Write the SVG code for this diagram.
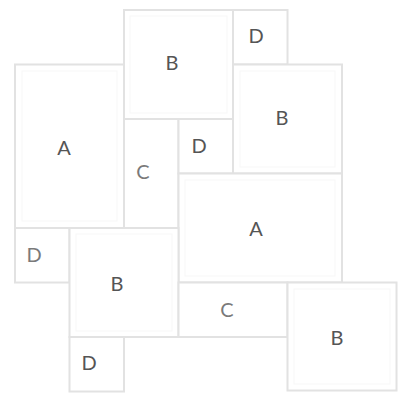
<svg xmlns="http://www.w3.org/2000/svg" width="399" height="393" viewBox="0 0 399 393">
<style>
.box{fill:#ffffff;stroke:#e2e2e2;stroke-width:2}
.inner{fill:none;stroke:#f7f7f7;stroke-width:1}
.lbl{font-family:"Lato","Open Sans",sans-serif;font-size:20px;fill:#555555;text-anchor:middle;dominant-baseline:central}
.lt{fill:#7a7a7a}
</style>
<rect width="399" height="393" fill="#ffffff"/>
<g id="B1"><rect class="box" x="124" y="10" width="109" height="109"/><rect class="inner" x="130" y="16" width="97" height="97"/><text class="lbl" x="172" y="62">B</text></g>
<g id="D1"><rect class="box" x="233" y="10" width="54.5" height="54.5"/><text class="lbl" x="256" y="35">D</text></g>
<g id="A1"><rect class="box" x="15" y="64.5" width="109" height="163.5"/><rect class="inner" x="22" y="71" width="95" height="150"/><text class="lbl" x="64" y="147">A</text></g>
<g id="B2"><rect class="box" x="233" y="64.5" width="109" height="109"/><rect class="inner" x="240" y="71" width="95" height="96"/><text class="lbl" x="282" y="117">B</text></g>
<g id="C1"><rect class="box" x="124" y="119" width="54.5" height="109"/><text class="lbl lt" x="143" y="171">C</text></g>
<g id="D2"><rect class="box" x="178.5" y="119" width="54.5" height="54.5"/><text class="lbl" x="199" y="145">D</text></g>
<g id="A2"><rect class="box" x="178.5" y="173.5" width="163.5" height="109"/><rect class="inner" x="185" y="180" width="150" height="96"/><text class="lbl" x="256" y="228">A</text></g>
<g id="D3"><rect class="box" x="15" y="228" width="54.5" height="54.5"/><text class="lbl lt" x="34" y="254">D</text></g>
<g id="B3"><rect class="box" x="69.5" y="228" width="109" height="109"/><rect class="inner" x="76" y="234" width="96" height="97"/><text class="lbl" x="117" y="283">B</text></g>
<g id="C2"><rect class="box" x="178.5" y="282.5" width="109" height="54.5"/><text class="lbl lt" x="227" y="309">C</text></g>
<g id="B4"><rect class="box" x="287.5" y="282.5" width="109" height="108"/><rect class="inner" x="294" y="289" width="96" height="95"/><text class="lbl" x="337" y="337">B</text></g>
<g id="D4"><rect class="box" x="69.5" y="337" width="54.5" height="54.5"/><text class="lbl" x="89" y="362">D</text></g>
<g id="connectors"></g>
</svg>
